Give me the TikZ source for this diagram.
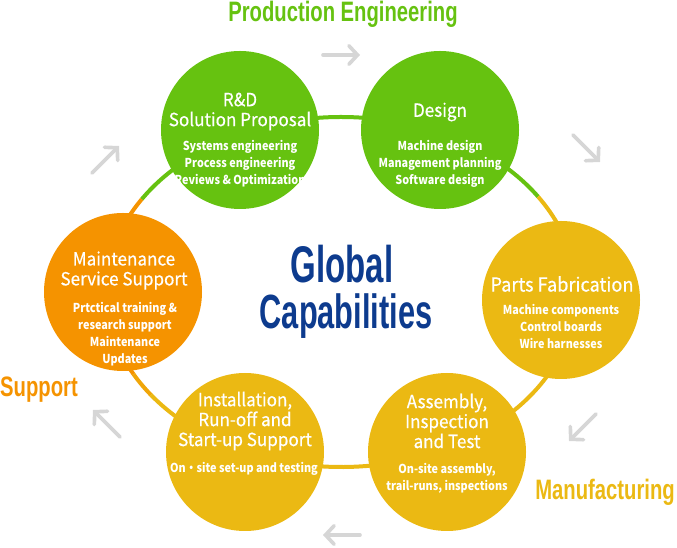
\documentclass[tikz,border=0pt]{standalone}
\usepackage{fontspec}
\setmainfont{Noto Sans CJK JP}
\newfontfamily\headfont[FakeStretch=0.94, FakeBold=0.5]{Noto Sans CJK JP}
\newfontfamily\itemfont[FakeStretch=0.88]{Noto Sans CJK JP}
\newfontfamily\condfont[FakeStretch=0.72]{Liberation Sans Bold}
\newfontfamily\corefont[FakeStretch=0.64]{Liberation Sans Bold}
\usetikzlibrary{arrows.meta}
\definecolor{StageGreen}{HTML}{66C210}
\definecolor{StageYellow}{HTML}{EBB913}
\definecolor{StageOrange}{HTML}{F59300}
\definecolor{CoreBlue}{HTML}{0D3B8E}
\definecolor{FlowGray}{HTML}{D6D6D6}

\begin{document}
\begin{tikzpicture}[x=0.3mm, y=0.3mm,
            stage/.style={circle, minimum size=47.4mm, inner sep=0pt},
            head/.style={text=white, align=center, inner sep=0pt,
                         font=\headfont\fontsize{15.5}{17}\selectfont},
            items/.style={text=white, align=center, inner sep=0pt,
                          font=\itemfont\bfseries\fontsize{10.5}{14.5}\selectfont},
            ring/.style={line width=1.2mm},
            flow/.style={FlowGray, line width=1.1mm, line cap=round,
                         -{Straight Barb[length=2.6mm, width=5.6mm, line cap=round]}},
            phase/.style={anchor=base, inner sep=0pt, font=\condfont\fontsize{24}{24}\selectfont},
            core/.style={anchor=base, inner sep=0pt, text=CoreBlue}]

            \useasboundingbox (0,0) rectangle (677,548);

            % anel
            \coordinate (hub) at (341,256);
            \draw[ring, StageGreen]  (hub) ++(33:235 and 175)
                arc[start angle=33, end angle=148, x radius=235, y radius=175];
            \draw[ring, StageOrange] (hub) ++(148:235 and 175)
                arc[start angle=148, end angle=208, x radius=235, y radius=175];
            \draw[ring, StageOrange!50!StageYellow] (hub) ++(208:235 and 175)
                arc[start angle=208, end angle=216, x radius=235, y radius=175];
            \draw[ring, StageYellow] (hub) ++(216:235 and 175)
                arc[start angle=216, end angle=393, x radius=235, y radius=175];

            % etapas
            \node[stage, fill=StageGreen]  (rd)       at (240,418) {};
            \node[stage, fill=StageGreen]  (design)   at (440,418) {};
            \node[stage, fill=StageYellow] (parts)    at (561,248) {};
            \node[stage, fill=StageYellow] (assembly) at (447,96)  {};
            \node[stage, fill=StageYellow] (install)  at (245,96)  {};
            \node[stage, fill=StageOrange] (maint)    at (123,256) {};

            \node[head]  (rdHead)   at (240,436.5) {R\&D\\Solution Proposal};
            \node[items] (rdItems)  at (240,384)   {Systems engineering\\Process engineering\\Reviews \& Optimization};

            \node[head]  (designHead)  at (440,436) {Design};
            \node[items] (designItems) at (440,384) {Machine design\\Management planning\\Software design};

            \node[head, font=\headfont\fontsize{16.5}{17}\selectfont]
                         (partsHead)  at (562,264) {Parts Fabrication};
            \node[items] (partsItems) at (561,222) {Machine components\\Control boards\\Wire harnesses};

            \node[head]  (assemblyHead)  at (447,127) {Assembly,\\Inspection\\and Test};
            \node[items] (assemblyItems) at (447,70)  {On-site assembly,\\trail-runs, inspections};

            \node[head]  (installHead)  at (245,127) {Installation,\\Run-off and\\Start-up Support};
            \node[items] (installItems) at (244,79)  {On・site set-up and testing};

            \node[head]  (maintHead)  at (124,277.5) {Maintenance\\Service Support};
            \node[items] (maintItems) at (125,214)   {Prtctical training \&\\research support\\Maintenance\\Updates};

            % centro
            \node[core, font=\corefont\fontsize{44}{44}\selectfont] (coreTop)    at (342,265) {Global};
            \node[core, font=\corefont\fontsize{41}{41}\selectfont] (coreBottom) at (346,219) {Capabilities};

            % fases
            \node[phase, text=StageGreen]  (phaseEng)  at (343,526) {Production Engineering};
            \node[phase, text=StageOrange] (phaseSup)  at (39,151)  {Support};
            \node[phase, text=StageYellow] (phaseMfg)  at (605,48)  {Manufacturing};

            % setas
            \coordinate (f1a) at (323,493); \coordinate (f1b) at (360,493);
            \coordinate (f2a) at (573,413); \coordinate (f2b) at (600,386);
            \coordinate (f3a) at (596,134); \coordinate (f3b) at (569,107);
            \coordinate (f4a) at (360,13);  \coordinate (f4b) at (323,13);
            \coordinate (f5a) at (120,111); \coordinate (f5b) at (93,138);
            \coordinate (f6a) at (92,375);  \coordinate (f6b) at (119,402);
            \draw[flow] (f1a) -- (f1b);
            \draw[flow] (f2a) -- (f2b);
            \draw[flow] (f3a) -- (f3b);
            \draw[flow] (f4a) -- (f4b);
            \draw[flow] (f5a) -- (f5b);
            \draw[flow] (f6a) -- (f6b);
        \end{tikzpicture}
\end{document}
